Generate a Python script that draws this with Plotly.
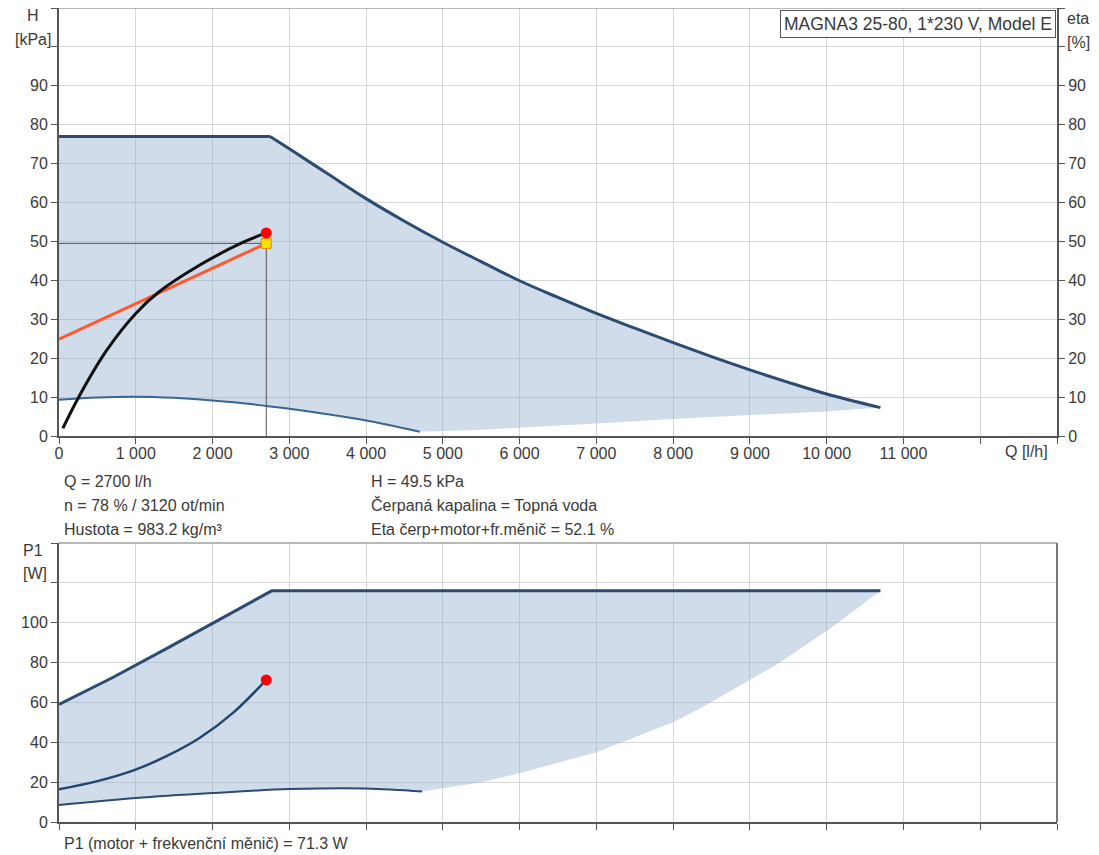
import plotly.graph_objects as go

# ---------------- data ----------------
# Upper chart: head H [kPa] vs flow Q [l/h]
q_max = [0, 2750, 3000, 3500, 4000, 4500, 5000, 5500, 6000, 6500, 7000, 7500, 8000, 8500, 9000, 9500, 10000, 10700]
h_max = [77, 77, 73.8, 67.4, 61.0, 55.2, 49.8, 44.8, 39.9, 35.6, 31.5, 27.7, 24.0, 20.4, 17.0, 13.8, 10.8, 7.3]

q_min = [0, 500, 1000, 1500, 2000, 2500, 3000, 3500, 4000, 4700]
h_min = [9.3, 9.9, 10.1, 9.8, 9.1, 8.2, 7.0, 5.6, 4.0, 1.1]

q_low = [4700, 5500, 6000, 7000, 8000, 9000, 10000, 10700]
h_low = [1.1, 1.6, 2.1, 3.2, 4.4, 5.4, 6.3, 7.3]

q_pump = [50, 270, 620, 1000, 1300, 1840, 2400, 2700]
h_pump = [2.0, 10.5, 22.0, 31.5, 37.0, 44.0, 49.8, 52.2]

q_sys = [0, 2700]
h_sys = [24.9, 49.5]

q_duty = 2700
h_duty = 49.5
h_duty_curve = 52.2

# Lower chart: power P1 [W] vs flow Q [l/h]
q_p1max = [0, 700, 1400, 2100, 2770, 10700]
p_p1max = [59, 72.5, 87, 102, 116, 116]

q_p1op = [0, 500, 970, 1400, 1840, 2270, 2700]
p_p1op = [16.4, 20.5, 25.9, 33.0, 42.4, 54.9, 71.3]

q_p1min = [0, 1000, 2000, 3000, 4000, 4730]
p_p1min = [8.5, 12.0, 14.5, 16.5, 16.8, 15.3]

q_p1low = [4730, 5500, 6000, 7000, 8000, 8350, 9350, 10080, 10700]
p_p1low = [15.3, 20, 24.5, 35, 50, 57, 79, 98, 116]

p1_duty = 71.3

x_ticks = list(range(0, 13001, 1000))
x_labels = ["0", "1 000", "2 000", "3 000", "4 000", "5 000", "6 000", "7 000",
            "8 000", "9 000", "10 000", "11 000", "", ""]
h_ticks = list(range(0, 111, 10))
h_labels = [str(v) for v in range(0, 91, 10)] + ["", ""]
p_ticks = list(range(0, 141, 20))
p_labels = [str(v) for v in range(0, 101, 20)] + ["", ""]

# ---------------- styling / layout ----------------
W, H = 1099, 855          # browser window
OFF = 8                   # default <body> margin of the html page
L, R, T, B = 59, 1057, 8, 822   # plot area in window pixels


def px(x):
    return (x - L) / (R - L)


def py(y):
    return (B - y) / (B - T)


FILL = "rgba(150,178,206,0.45)"
NAVY = "#2b4b70"
TXT = "#3a3a3a"
FONT = "Liberation Sans, Arial, sans-serif"
FS = 16

fig = go.Figure()

# ---- upper chart ----
fig.add_trace(go.Scatter(
    x=q_max + q_low[::-1] + q_min[::-1],
    y=h_max + h_low[::-1] + h_min[::-1],
    fill="toself", fillcolor=FILL, line=dict(width=0), mode="lines",
    hoverinfo="skip", xaxis="x", yaxis="y"))
fig.add_trace(go.Scatter(x=q_max[:2], y=h_max[:2], mode="lines",
                         line=dict(color=NAVY, width=3), xaxis="x", yaxis="y"))
fig.add_trace(go.Scatter(x=q_max[1:], y=h_max[1:], mode="lines",
                         line=dict(color=NAVY, width=3, shape="spline"), xaxis="x", yaxis="y"))
fig.add_trace(go.Scatter(x=q_min, y=h_min, mode="lines",
                         line=dict(color="#3a6593", width=2, shape="spline"), xaxis="x", yaxis="y"))
fig.add_trace(go.Scatter(x=[0, q_duty, q_duty], y=[h_duty, h_duty, 0], mode="lines",
                         line=dict(color="#555555", width=1), xaxis="x", yaxis="y"))
fig.add_trace(go.Scatter(x=q_sys, y=h_sys, mode="lines",
                         line=dict(color="#ff5a2e", width=3), xaxis="x", yaxis="y"))
fig.add_trace(go.Scatter(x=q_pump, y=h_pump, mode="lines",
                         line=dict(color="#111111", width=3, shape="spline"), xaxis="x", yaxis="y"))
fig.add_trace(go.Scatter(x=[q_duty], y=[h_duty], mode="markers",
                         marker=dict(symbol="square", size=10, color="#ffe000",
                                     line=dict(color="#e09000", width=1)), xaxis="x", yaxis="y"))
fig.add_trace(go.Scatter(x=[q_duty], y=[h_duty_curve], mode="markers",
                         marker=dict(size=11, color="#ff0000"), xaxis="x", yaxis="y"))

# ---- lower chart ----
fig.add_trace(go.Scatter(
    x=q_p1max + q_p1low[::-1] + q_p1min[::-1],
    y=p_p1max + p_p1low[::-1] + p_p1min[::-1],
    fill="toself", fillcolor=FILL, line=dict(width=0), mode="lines",
    hoverinfo="skip", xaxis="x2", yaxis="y3"))
fig.add_trace(go.Scatter(x=q_p1max, y=p_p1max, mode="lines",
                         line=dict(color=NAVY, width=3), xaxis="x2", yaxis="y3"))
fig.add_trace(go.Scatter(x=q_p1min, y=p_p1min, mode="lines",
                         line=dict(color=NAVY, width=2, shape="spline"), xaxis="x2", yaxis="y3"))
fig.add_trace(go.Scatter(x=q_p1op, y=p_p1op, mode="lines",
                         line=dict(color="#234670", width=2.5, shape="spline"), xaxis="x2", yaxis="y3"))
fig.add_trace(go.Scatter(x=[q_duty], y=[p1_duty], mode="markers",
                         marker=dict(size=11, color="#ff0000"), xaxis="x2", yaxis="y3"))

# dummy trace so the right (eta) axis is drawn
fig.add_trace(go.Scatter(x=[0], y=[0], mode="markers", marker=dict(opacity=0),
                         hoverinfo="skip", xaxis="x", yaxis="y2"))

top_dom = [py(436), 1]
low_dom = [0, py(543)]

axis_common = dict(showline=True, linecolor="#555555", linewidth=2, ticks="outside",
                   ticklen=6, tickcolor="#555555", zeroline=False,
                   tickfont=dict(family=FONT, size=FS, color=TXT))
grid = dict(showgrid=True, gridcolor="#d6d6d6", gridwidth=1)

fig.update_layout(
    width=W - OFF, height=H - OFF,
    margin=dict(l=L - OFF, r=W - R, t=T - OFF, b=H - B),
    paper_bgcolor="white", plot_bgcolor="white",
    showlegend=False,
    font=dict(family=FONT, size=FS, color=TXT),
    xaxis=dict(domain=[0, 1], anchor="y", range=[0, 13000], ticklabelstandoff=-4,
               tickmode="array", tickvals=x_ticks, ticktext=x_labels, **axis_common, **grid),
    yaxis=dict(domain=top_dom, anchor="x", range=[0, 110],
               tickmode="array", tickvals=h_ticks, ticktext=h_labels, **axis_common, **grid),
    yaxis2=dict(overlaying="y", side="right", anchor="x", range=[0, 110], showgrid=False,
                tickmode="array", tickvals=h_ticks, ticktext=h_labels, **axis_common),
    xaxis2=dict(domain=[0, 1], anchor="y3", range=[0, 13000], showticklabels=False,
                tickmode="array", tickvals=x_ticks, **axis_common, **grid),
    yaxis3=dict(domain=low_dom, anchor="x2", range=[0, 140],
                tickmode="array", tickvals=p_ticks, ticktext=p_labels, **axis_common, **grid),
)

# borders
shapes = [
    dict(type="line", xref="paper", yref="paper", x0=0, x1=1, y0=1, y1=1,
         line=dict(color="#a0a0a0", width=1.5)),
    dict(type="line", xref="paper", yref="paper", x0=0, x1=1, y0=low_dom[1], y1=low_dom[1],
         line=dict(color="#a0a0a0", width=1.5)),
    dict(type="line", xref="paper", yref="paper", x0=1, x1=1, y0=0, y1=low_dom[1],
         line=dict(color="#777777", width=2)),
]
fig.update_layout(shapes=shapes)


def txt(text, x, y, xanchor="left", size=FS, **kw):
    return dict(text=text, x=px(x), y=py(y), xref="paper", yref="paper",
                xanchor=xanchor, yanchor="middle", showarrow=False,
                font=dict(family=FONT, size=size, color=TXT), **kw)


annotations = [
    txt("H", 33, 15, "center"),
    txt("[kPa]", 33, 40, "center"),
    txt("eta", 1078, 18, "center"),
    txt("[%]", 1078, 43, "center"),
    txt("P1", 33, 550, "center"),
    txt("[W]", 35, 573, "center"),
    txt("Q [l/h]", 1026, 452, "center"),
    txt("Q = 2700 l/h", 62, 481),
    txt("n = 78 % / 3120 ot/min", 62, 505),
    txt("Hustota = 983.2 kg/m³", 62, 529),
    txt("H = 49.5 kPa", 369, 481),
    txt("Čerpaná kapalina = Topná voda", 369, 505),
    txt("Eta čerp+motor+fr.měnič = 52.1 %", 369, 529),
    txt("P1 (motor + frekvenční měnič) = 71.3 W", 62, 843),
    dict(text="MAGNA3 25-80, 1*230 V, Model E", x=px(1056), y=py(10), xref="paper", yref="paper",
         xanchor="right", yanchor="top", showarrow=False, bgcolor="white",
         bordercolor="#555555", borderwidth=1, borderpad=3,
         font=dict(family=FONT, size=17.5, color=TXT)),
]
fig.update_layout(annotations=annotations)

fig.write_html("out.html")
